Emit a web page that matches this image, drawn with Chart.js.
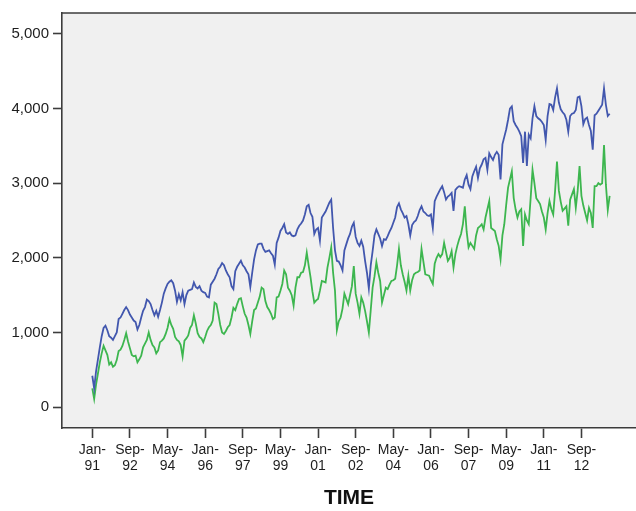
<!DOCTYPE html>
<html lang="en">

<head>
    <meta charset="UTF-8">
    <title>TIME series</title>
    <style>
        body {
            margin: 0;
            background: #ffffff;
            overflow: hidden;
        }

        canvas {
            display: block;
        }
    </style>
</head>

<body>
    <canvas id="chart" width="636" height="511"></canvas>

    <script src="https://cdn.jsdelivr.net/npm/chart.js"></script>
    <script>
        // monthly values, Jan-91 .. Dec-13 (one row per year)
        const blueValues = [
            420, 250, 480, 640, 800, 950, 1060, 1090, 1030, 950, 930, 900,
            950, 1000, 1180, 1200, 1250, 1300, 1340, 1300, 1240, 1200, 1160, 1140,
            1040, 1100, 1200, 1290, 1340, 1440, 1420, 1380, 1300, 1230, 1290, 1210,
            1300, 1400, 1520, 1590, 1650, 1680, 1700, 1660, 1560, 1410, 1510, 1430,
            1540, 1380, 1500, 1560, 1570, 1580, 1670, 1610, 1590, 1620, 1560, 1540,
            1530, 1480, 1470, 1640, 1680, 1720, 1780, 1850, 1880, 1930, 1900, 1830,
            1780, 1740, 1620, 1580, 1820, 1880, 1920, 1960, 1900, 1870, 1820, 1780,
            1610, 1800, 1980, 2100, 2180, 2190, 2190, 2120, 2080, 2090, 2100, 2060,
            2030, 1910, 2200, 2270, 2360, 2400, 2450, 2340, 2320, 2340, 2300, 2290,
            2300, 2380, 2430, 2460, 2500, 2580, 2690, 2710, 2600, 2550, 2320, 2380,
            2400, 2230, 2540, 2580, 2620, 2680, 2740, 2780, 2400, 2100, 1960, 1950,
            1900, 1830, 2100, 2180, 2260, 2320, 2420, 2470, 2280, 2200, 2160, 2230,
            2150, 1960, 1800, 1590, 1900, 2090, 2300, 2380, 2320, 2260, 2160, 2250,
            2240, 2290, 2350, 2400, 2470, 2540, 2680, 2730, 2650, 2600, 2540, 2560,
            2450, 2300, 2440, 2480, 2500, 2560, 2640, 2690, 2620, 2600, 2570, 2560,
            2580, 2400, 2760, 2820, 2870, 2920, 2960, 2880, 2780, 2820, 2840, 2870,
            2630, 2910, 2940, 2960, 2950, 2940, 3050, 3110, 2980, 2920, 3090, 3160,
            3220, 3070, 3200, 3250, 3320, 3340, 3180, 3400, 3350, 3310, 3380, 3420,
            3380, 3050, 3520, 3620, 3720, 3850, 4000, 4030, 3830, 3780, 3740, 3690,
            3630, 3270, 3690, 3230, 3650, 3600, 3870, 4030, 3900, 3870, 3850, 3820,
            3780, 3580, 3900, 4060, 4050, 3980, 4150, 4270, 4080, 3990, 3950, 3920,
            3850, 3690, 3900, 3930, 3940, 3980, 4150, 4160, 4030, 3790, 3860, 3880,
            3780, 3700, 3450, 3910, 3930, 3970, 4010, 4050, 4270, 4050, 3900, 3930
        ];

        const greenValues = [
            250, 110, 300, 450, 600, 720, 820, 760, 700, 570, 600, 540,
            560, 630, 750, 770, 820, 900, 990, 880, 790, 700, 680, 690,
            600, 640, 690, 800, 850, 900, 1000, 900, 830, 800, 720, 760,
            870, 890, 920, 980, 1060, 1180, 1100, 1050, 940, 900, 880, 830,
            680, 890, 920, 960, 1060, 1100, 1230, 1120, 990, 940, 920, 870,
            940, 1020, 1070, 1100, 1160, 1400, 1380, 1250, 1100, 1000, 980, 1020,
            1070, 1100, 1200, 1330, 1300, 1380, 1450, 1460, 1350, 1250, 1200, 1100,
            980, 1150, 1300, 1320, 1400, 1480, 1600, 1580, 1420, 1340, 1300, 1250,
            1180, 1200, 1470, 1480, 1560, 1650, 1830, 1780, 1600, 1560, 1500, 1360,
            1600, 1740, 1740, 1800, 1810, 1900, 2070, 1900, 1740, 1550, 1400, 1430,
            1450, 1560, 1690, 1680, 1670, 1870, 2000, 2140, 1800, 1560, 1030, 1150,
            1200, 1320, 1520, 1450, 1380, 1500, 1620, 1890, 1520, 1400, 1250, 1470,
            1400, 1290, 1150, 1000, 1300, 1600, 1750, 1940, 1800, 1690, 1400, 1500,
            1600, 1580, 1640, 1690, 1700, 1720, 1900, 2120, 1900, 1780, 1680, 1560,
            1760, 1560, 1700, 1780, 1800, 1810, 1830, 2120, 1950, 1780, 1770, 1760,
            1700, 1650, 1920, 2000, 2050, 2010, 2050, 2200, 2080, 1960, 2000, 2090,
            1870, 2050, 2160, 2250, 2320, 2450, 2690, 2350, 2140, 2200, 2160, 2120,
            2300, 2400, 2420, 2450, 2380, 2540, 2650, 2760, 2400, 2380, 2360, 2250,
            2160, 1980, 2300, 2450, 2710, 2940, 3050, 3160, 2800, 2650, 2540, 2620,
            2650, 2160, 2580, 2500, 2450, 2800, 3180, 3000, 2800, 2760, 2720, 2620,
            2540, 2380, 2600, 2760, 2650, 2580, 2900, 3290, 2900, 2750, 2630, 2660,
            2690, 2430, 2780, 2850, 2920, 2670, 2900, 3230, 2830, 2700, 2600, 2500,
            2670, 2600, 2400, 2960, 2960, 3000, 2980, 3000, 3510, 2980, 2640, 2830
        ];

        // tick positions are month numbers counted from Jan-91
        const xTickMonths = [0, 20, 40, 60, 80, 100, 120, 140, 160, 180, 200, 220, 240, 260];
        const xTickLabels = [
            ['Jan-', '91'], ['Sep-', '92'], ['May-', '94'], ['Jan-', '96'], ['Sep-', '97'],
            ['May-', '99'], ['Jan-', '01'], ['Sep-', '02'], ['May-', '04'], ['Jan-', '06'],
            ['Sep-', '07'], ['May-', '09'], ['Jan-', '11'], ['Sep-', '12']
        ];
        const yTicks = [0, 1000, 2000, 3000, 4000, 5000];

        const axisColor = '#3c3c3c';
        const textColor = '#1e1e1e';

        // grey plot area plus the top frame line
        const plotFrame = {
            id: 'plotFrame',
            beforeDraw(chart) {
                const { ctx, chartArea } = chart;
                ctx.save();
                ctx.fillStyle = '#f0f0f0';
                ctx.fillRect(chartArea.left, chartArea.top, chartArea.right - chartArea.left, chartArea.bottom - chartArea.top);
                ctx.restore();
            },
            afterDraw(chart) {
                const { ctx, chartArea } = chart;
                ctx.save();
                ctx.strokeStyle = axisColor;
                ctx.lineWidth = 1.6;
                ctx.beginPath();
                ctx.moveTo(chartArea.left, chartArea.top);
                ctx.lineTo(chartArea.right + 2, chartArea.top);
                ctx.stroke();
                ctx.restore();
            }
        };

        function toPoints(values) {
            return values.map((v, i) => ({ x: i, y: v }));
        }

        const ctx = document.getElementById('chart').getContext('2d');
        new Chart(ctx, {
            type: 'line',
            data: {
                datasets: [{
                    label: 'Series 1',
                    data: toPoints(blueValues),
                    borderColor: '#4257ae',
                    borderWidth: 1.8,
                    pointRadius: 0,
                    tension: 0
                }, {
                    label: 'Series 2',
                    data: toPoints(greenValues),
                    borderColor: '#3db64f',
                    borderWidth: 1.8,
                    pointRadius: 0,
                    tension: 0
                }]
            },
            options: {
                responsive: false,
                animation: false,
                layout: { padding: { top: 11, right: 0, bottom: 0, left: 0 } },
                plugins: {
                    legend: { display: false },
                    tooltip: { enabled: false }
                },
                scales: {
                    x: {
                        type: 'linear',
                        min: -16.1,
                        max: 289,
                        afterFit(scale) { scale.height = 83; },
                        afterBuildTicks(scale) {
                            scale.ticks = xTickMonths.map(v => ({ value: v }));
                        },
                        grid: {
                            drawOnChartArea: false,
                            drawTicks: true,
                            tickLength: 10,
                            tickWidth: 1.6,
                            tickColor: axisColor
                        },
                        border: { display: true, color: axisColor, width: 1.6 },
                        ticks: {
                            autoSkip: false,
                            maxRotation: 0,
                            padding: 4,
                            color: textColor,
                            font: { family: 'Liberation Sans, Arial, sans-serif', size: 14, lineHeight: 1.15 },
                            callback(value) {
                                const k = xTickMonths.indexOf(value);
                                return k >= 0 ? xTickLabels[k] : '';
                            }
                        },
                        title: {
                            display: true,
                            text: 'TIME',
                            color: '#111111',
                            padding: { top: 0, bottom: 0 },
                            font: { family: 'Liberation Sans, Arial, sans-serif', size: 21, weight: 'bold', lineHeight: 1.2 }
                        }
                    },
                    y: {
                        min: -280,
                        max: 5280,
                        afterFit(scale) { scale.width = 62; },
                        afterBuildTicks(scale) {
                            scale.ticks = yTicks.map(v => ({ value: v }));
                        },
                        grid: {
                            drawOnChartArea: false,
                            drawTicks: true,
                            tickLength: 9,
                            tickWidth: 1.6,
                            tickColor: axisColor
                        },
                        border: { display: true, color: axisColor, width: 1.6 },
                        ticks: {
                            padding: 4,
                            color: textColor,
                            font: { family: 'Liberation Sans, Arial, sans-serif', size: 15 },
                            callback(value) {
                                return value.toLocaleString('en-US');
                            }
                        }
                    }
                }
            },
            plugins: [plotFrame]
        });
    </script>
</body>

</html>
